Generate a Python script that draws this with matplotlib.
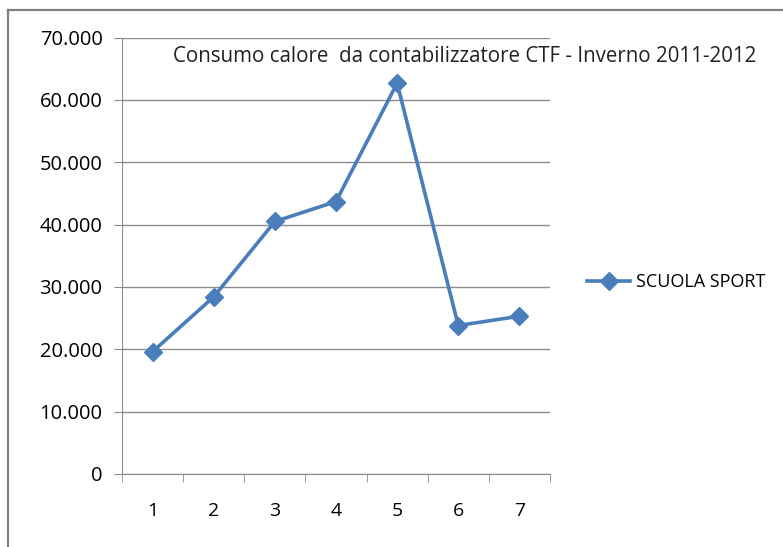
import matplotlib.pyplot as plt
from matplotlib.lines import Line2D
from matplotlib.ticker import FuncFormatter

# Heat consumption per month index, winter 2011-2012
mesi = [1, 2, 3, 4, 5, 6, 7]
consumo = [19600, 28400, 40500, 43700, 62700, 23800, 25300]
serie = "SCUOLA SPORT"
titolo = "Consumo calore  da contabilizzatore CTF - Inverno 2011-2012"

plt.rcParams["font.family"] = ["Open Sans", "DejaVu Sans"]

fig = plt.figure(figsize=(7.83, 5.47), dpi=100)
ax = fig.add_axes([0.1558, 0.1338, 0.5466, 0.7973])

ax.plot(mesi, consumo, color="#4a7ebb", lw=2.6, marker="D", ms=9.5,
        label=serie, zorder=3)

ax.set_xlim(0.5, 7.5)
ax.set_ylim(0, 70000)
ax.set_yticks(range(0, 70001, 10000))
ax.yaxis.set_major_formatter(
    FuncFormatter(lambda v, p: f"{int(v):,}".replace(",", ".")))
ax.grid(axis="y", color="#8c8c8c", lw=1)
ax.set_axisbelow(True)

# category labels centred, tick marks on category boundaries
ax.set_xticks(mesi)
ax.set_xticks([m + 0.5 for m in [0] + mesi], minor=True)
ax.tick_params(axis="x", which="major", length=0, pad=20, labelsize=14)
ax.tick_params(axis="x", which="minor", length=6, color="#8c8c8c")
ax.tick_params(axis="y", length=6, color="#8c8c8c", labelsize=14.5, pad=8)

for s in ["top", "right"]:
    ax.spines[s].set_visible(False)
for s in ["left", "bottom"]:
    ax.spines[s].set_color("#8c8c8c")

fig.text(0.593, 0.896, titolo, ha="center", va="center", fontsize=14.8,
         color="#222222")

fig.legend(loc="center left", bbox_to_anchor=(0.729, 0.484), frameon=False,
           fontsize=13, handlelength=2.4, handletextpad=0.3)

# outer chart frame
fig.add_artist(Line2D([0.0102, 1], [0.9817, 0.9817], color="#808080", lw=1.6))
fig.add_artist(Line2D([0.0102, 0.0102], [0, 0.9817], color="#808080", lw=1.6))

fig.savefig("out.png", dpi=100)
